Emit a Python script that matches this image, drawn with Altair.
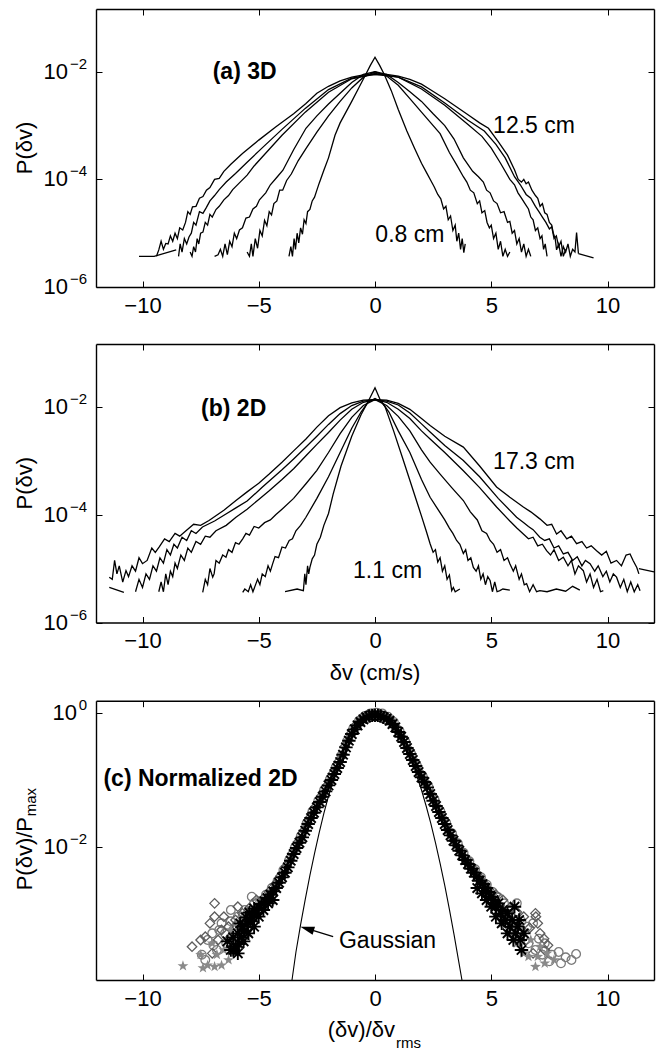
import altair as alt
import pandas as pd

FONT = "Liberation Sans"

# ------------------------------------------------------------------
# Data: (delta v, log10 P) pairs
# ------------------------------------------------------------------
X_TICKS = [-10, -5, 0, 5, 10]

# ---- panel (a) 3D ----
A1 = [(-3.70,-5.43),(-3.62,-5.25),(-3.55,-5.43),(-3.48,-5.10),(-3.42,-5.30),(-3.35,-5.00),(-3.28,-5.18),(-3.20,-4.90),(-3.12,-5.02),(-3.05,-4.75),(-2.97,-4.82),(-2.90,-4.60),(-2.80,-4.56),(-2.70,-4.40),(-2.60,-4.33),(-2.50,-4.20),(-2.40,-4.07),(-2.30,-3.95),(-2.20,-3.83),(-2.00,-3.60),(-1.72,-3.18),(-1.50,-2.95),(-1.00,-2.55),(-0.70,-2.30),(-0.40,-2.05),(-0.20,-1.88),(0.00,-1.73),(0.20,-1.88),(0.40,-2.05),(0.70,-2.35),(1.00,-2.70),(1.37,-3.10),(1.70,-3.42),(2.00,-3.70),(2.20,-3.86),(2.40,-4.02),(2.55,-4.14),(2.70,-4.28),(2.83,-4.36),(2.95,-4.55),(3.05,-4.50),(3.15,-4.75),(3.25,-4.68),(3.35,-4.95),(3.45,-4.85),(3.52,-5.15),(3.60,-5.00),(3.68,-5.30),(3.75,-5.10),(3.82,-5.36),(3.88,-5.20)]
A2 = [(-5.50,-5.35),(-5.40,-5.43),(-5.32,-5.20),(-5.25,-5.43),(-5.15,-5.10),(-5.05,-5.28),(-4.95,-4.95),(-4.85,-5.05),(-4.75,-4.76),(-4.65,-4.86),(-4.55,-4.60),(-4.45,-4.66),(-4.35,-4.45),(-4.22,-4.40),(-4.10,-4.20),(-3.97,-4.20),(-3.80,-4.02),(-3.60,-3.90),(-3.30,-3.65),(-2.97,-3.43),(-2.50,-3.12),(-2.00,-2.82),(-1.50,-2.55),(-1.00,-2.30),(-0.50,-2.10),(0.00,-2.00),(0.50,-2.08),(1.00,-2.25),(1.50,-2.50),(2.00,-2.75),(2.40,-2.95),(2.80,-3.15),(3.20,-3.50),(3.50,-3.72),(3.80,-3.95),(3.95,-4.05),(4.10,-4.20),(4.25,-4.25),(4.40,-4.45),(4.50,-4.40),(4.60,-4.62),(4.72,-4.58),(4.82,-4.80),(4.92,-4.90),(5.00,-4.85),(5.10,-5.10),(5.20,-5.00),(5.30,-5.30),(5.40,-5.15),(5.50,-5.43),(5.60,-5.30),(5.70,-5.43),(5.80,-5.35)]
A3 = [(-6.90,-5.43),(-6.75,-5.40),(-6.65,-5.30),(-6.55,-5.43),(-6.45,-5.20),(-6.35,-5.40),(-6.25,-5.15),(-6.15,-5.25),(-6.05,-5.00),(-5.95,-5.10),(-5.83,-4.94),(-5.70,-4.90),(-5.55,-4.72),(-5.40,-4.70),(-5.25,-4.55),(-5.10,-4.50),(-4.97,-4.38),(-4.70,-4.25),(-4.50,-4.10),(-4.20,-3.95),(-3.96,-3.83),(-3.50,-3.45),(-2.97,-3.05),(-2.50,-2.82),(-2.00,-2.60),(-1.50,-2.40),(-1.00,-2.20),(-0.50,-2.05),(0.00,-2.00),(0.50,-2.05),(1.00,-2.20),(1.50,-2.37),(2.00,-2.55),(2.50,-2.78),(3.00,-3.00),(3.40,-3.25),(3.80,-3.60),(4.20,-3.85),(4.45,-3.95),(4.66,-4.05),(4.80,-4.20),(4.95,-4.25),(5.10,-4.40),(5.25,-4.45),(5.40,-4.62),(5.55,-4.60),(5.70,-4.80),(5.80,-4.78),(5.90,-5.00),(6.00,-4.95),(6.10,-5.20),(6.20,-5.10),(6.30,-5.35),(6.40,-5.20),(6.50,-5.43),(6.60,-5.30),(6.70,-5.43)]
A4 = [(-7.95,-5.35),(-7.87,-5.43),(-7.80,-5.25),(-7.72,-5.35),(-7.65,-5.10),(-7.58,-5.20),(-7.50,-5.00),(-7.40,-4.98),(-7.30,-4.80),(-7.20,-4.85),(-7.10,-4.65),(-7.00,-4.70),(-6.84,-4.56),(-6.70,-4.50),(-6.50,-4.38),(-6.30,-4.30),(-6.12,-4.19),(-5.80,-4.05),(-5.50,-3.92),(-5.20,-3.75),(-4.84,-3.58),(-4.00,-3.18),(-3.00,-2.75),(-2.00,-2.38),(-1.00,-2.13),(0.00,-2.03),(1.00,-2.10),(2.00,-2.32),(3.00,-2.62),(4.00,-2.98),(4.60,-3.20),(5.00,-3.42),(5.40,-3.70),(5.80,-4.00),(6.00,-4.10),(6.15,-4.25),(6.30,-4.35),(6.45,-4.45),(6.60,-4.55),(6.70,-4.70),(6.80,-4.75),(6.90,-4.95),(7.00,-4.90),(7.10,-5.10),(7.18,-5.05),(7.25,-5.30),(7.32,-5.20),(7.40,-5.43)]
A5 = [(-8.45,-5.43),(-8.38,-5.20),(-8.30,-5.35),(-8.20,-5.10),(-8.10,-5.20),(-8.00,-5.07),(-7.90,-5.00),(-7.80,-4.80),(-7.70,-4.85),(-7.55,-4.60),(-7.40,-4.63),(-7.25,-4.52),(-7.10,-4.40),(-6.90,-4.30),(-6.70,-4.19),(-6.40,-4.05),(-6.00,-3.89),(-5.50,-3.68),(-4.84,-3.41),(-4.00,-3.07),(-3.00,-2.68),(-2.00,-2.33),(-1.00,-2.12),(0.00,-2.05),(1.00,-2.10),(2.00,-2.28),(3.00,-2.58),(4.00,-2.90),(4.70,-3.10),(5.20,-3.35),(5.60,-3.60),(6.00,-3.95),(6.25,-4.10),(6.50,-4.28),(6.70,-4.35),(6.90,-4.50),(7.05,-4.60),(7.20,-4.70),(7.35,-4.80),(7.50,-4.92),(7.60,-4.88),(7.70,-5.10),(7.80,-5.05),(7.90,-5.25),(8.00,-5.15),(8.10,-5.43),(8.20,-5.30)]
A6 = [(-9.40,-5.43),(-9.30,-5.31),(-9.20,-5.15),(-9.10,-5.30),(-9.00,-5.19),(-8.90,-5.20),(-8.80,-5.05),(-8.70,-5.15),(-8.60,-5.00),(-8.50,-5.10),(-8.40,-4.90),(-8.27,-4.94),(-8.15,-4.80),(-8.05,-4.60),(-7.95,-4.65),(-7.85,-4.51),(-7.70,-4.50),(-7.55,-4.35),(-7.40,-4.32),(-7.25,-4.20),(-7.10,-4.15),(-6.90,-4.00),(-6.70,-3.98),(-6.50,-3.85),(-6.20,-3.72),(-5.70,-3.52),(-5.00,-3.27),(-4.26,-3.02),(-3.50,-2.78),(-2.97,-2.59),(-2.50,-2.40),(-2.00,-2.27),(-1.50,-2.17),(-1.00,-2.10),(-0.50,-2.06),(0.00,-2.05),(0.50,-2.05),(1.00,-2.08),(1.50,-2.14),(2.00,-2.23),(2.37,-2.33),(3.00,-2.50),(3.50,-2.65),(4.00,-2.80),(4.50,-2.95),(4.88,-3.05),(5.30,-3.30),(5.70,-3.55),(6.00,-3.82),(6.16,-4.00),(6.30,-4.05),(6.40,-4.00),(6.50,-4.08),(6.60,-4.05),(6.75,-4.20),(6.90,-4.30),(7.00,-4.35),(7.10,-4.50),(7.20,-4.45),(7.30,-4.62),(7.40,-4.65),(7.50,-4.80),(7.60,-4.85),(7.67,-5.00),(7.75,-5.10),(7.81,-5.31),(7.90,-5.20),(8.00,-5.43),(8.10,-5.25),(8.20,-5.35),(8.30,-5.20),(8.40,-5.43),(8.50,-5.30),(8.60,-5.35),(8.67,-4.99),(8.75,-5.38)]
A6_FIT_L = [(-10.15,-5.43),(-9.50,-5.43),(-8.55,-5.31)]
A6_FIT_R = [(8.75,-5.38),(9.40,-5.46)]

# ---- panel (b) 2D ----
B1 = [(-3.87,-5.43),(-3.35,-5.38),(-3.08,-5.41),(-3.02,-5.10),(-2.97,-5.30),(-2.90,-4.95),(-2.85,-5.10),(-2.80,-4.98),(-2.70,-4.82),(-2.60,-4.75),(-2.50,-4.55),(-2.35,-4.42),(-2.20,-4.20),(-2.00,-3.98),(-1.80,-3.62),(-1.46,-3.10),(-1.00,-2.55),(-0.60,-2.15),(-0.29,-1.90),(0.00,-1.65),(0.25,-1.90),(0.43,-2.00),(0.80,-2.45),(1.20,-2.97),(1.60,-3.50),(2.00,-4.03),(2.20,-4.30),(2.37,-4.54),(2.50,-4.70),(2.60,-4.65),(2.70,-4.88),(2.80,-4.80),(2.90,-5.05),(3.00,-4.95),(3.10,-5.20),(3.20,-5.12),(3.30,-5.41),(3.37,-5.35),(3.45,-5.43),(3.65,-5.38)]
B2 = [(-5.69,-5.44),(-5.60,-5.38),(-5.45,-5.43),(-5.35,-5.30),(-5.25,-5.43),(-5.12,-5.28),(-5.05,-5.20),(-4.95,-5.30),(-4.85,-5.10),(-4.72,-5.15),(-4.60,-4.95),(-4.50,-5.05),(-4.40,-4.91),(-4.30,-4.78),(-4.15,-4.80),(-4.00,-4.60),(-3.85,-4.62),(-3.69,-4.48),(-3.55,-4.45),(-3.40,-4.30),(-3.20,-4.20),(-2.97,-4.05),(-2.50,-3.70),(-2.00,-3.30),(-1.50,-2.85),(-1.00,-2.40),(-0.60,-2.10),(-0.30,-1.92),(0.00,-1.85),(0.30,-1.92),(0.60,-2.10),(1.00,-2.45),(1.50,-2.85),(2.00,-3.35),(2.37,-3.68),(2.70,-3.90),(3.00,-4.10),(3.20,-4.25),(3.35,-4.35),(3.51,-4.48),(3.65,-4.55),(3.80,-4.72),(3.90,-4.65),(4.00,-4.85),(4.12,-4.80),(4.23,-4.98),(4.35,-5.05),(4.45,-4.95),(4.55,-5.20),(4.65,-5.10),(4.75,-5.30),(4.85,-5.15),(4.95,-5.22),(5.05,-5.43),(5.15,-5.25),(5.25,-5.43),(5.37,-5.41),(5.50,-5.38),(5.80,-5.40)]
B3 = [(-7.41,-5.44),(-7.30,-5.20),(-7.20,-5.30),(-7.10,-5.00),(-6.98,-5.16),(-6.92,-5.10),(-6.84,-4.85),(-6.70,-4.90),(-6.55,-4.75),(-6.41,-4.79),(-6.30,-4.65),(-6.15,-4.70),(-6.00,-4.52),(-5.85,-4.55),(-5.69,-4.45),(-5.55,-4.35),(-5.40,-4.38),(-5.20,-4.22),(-5.00,-4.25),(-4.75,-4.15),(-4.50,-4.10),(-4.26,-4.00),(-4.00,-3.90),(-3.50,-3.70),(-2.97,-3.43),(-2.50,-3.18),(-2.00,-2.85),(-1.50,-2.50),(-1.00,-2.20),(-0.50,-1.98),(0.00,-1.87),(0.50,-1.98),(1.00,-2.18),(1.50,-2.45),(2.00,-2.80),(2.37,-3.03),(2.80,-3.25),(3.30,-3.50),(3.80,-3.74),(4.10,-3.95),(4.40,-4.10),(4.60,-4.30),(4.80,-4.35),(4.95,-4.48),(5.10,-4.55),(5.25,-4.70),(5.40,-4.65),(5.55,-4.85),(5.70,-4.80),(5.80,-4.91),(5.95,-5.05),(6.05,-4.95),(6.20,-5.20),(6.30,-5.10),(6.42,-5.30),(6.52,-5.28),(6.65,-5.43),(6.80,-5.30),(6.95,-5.43),(7.09,-5.41),(7.40,-5.43),(7.80,-5.38),(8.20,-5.42),(8.50,-5.33),(8.81,-5.40)]
B4 = [(-9.30,-5.43),(-9.20,-5.25),(-9.10,-5.43),(-9.00,-5.10),(-8.90,-5.30),(-8.80,-5.05),(-8.70,-5.15),(-8.60,-4.90),(-8.50,-5.00),(-8.35,-4.75),(-8.20,-4.85),(-8.05,-4.62),(-7.90,-4.70),(-7.70,-4.50),(-7.50,-4.55),(-7.30,-4.40),(-7.10,-4.42),(-6.84,-4.30),(-6.40,-4.20),(-5.98,-4.05),(-5.50,-3.90),(-5.00,-3.72),(-4.55,-3.56),(-4.00,-3.35),(-3.50,-3.15),(-2.97,-2.91),(-2.50,-2.70),(-2.00,-2.48),(-1.50,-2.25),(-1.00,-2.05),(-0.50,-1.92),(0.00,-1.87),(0.50,-1.92),(1.00,-2.05),(1.50,-2.22),(2.00,-2.45),(2.37,-2.60),(3.00,-2.85),(3.80,-3.19),(4.50,-3.50),(5.23,-3.86),(5.80,-4.12),(6.10,-4.25),(6.38,-4.36),(6.60,-4.45),(6.80,-4.42),(7.00,-4.58),(7.20,-4.55),(7.38,-4.67),(7.55,-4.75),(7.70,-4.65),(7.90,-4.85),(8.10,-4.79),(8.30,-4.95),(8.45,-4.85),(8.60,-5.10),(8.75,-4.95),(8.96,-5.04),(9.10,-5.25),(9.25,-5.10),(9.40,-5.35),(9.55,-5.20),(9.70,-5.43),(9.82,-5.41)]
B5 = [(-10.30,-5.43),(-10.15,-5.20),(-10.00,-5.35),(-9.85,-5.10),(-9.70,-5.20),(-9.55,-4.95),(-9.40,-5.05),(-9.25,-4.80),(-9.10,-4.90),(-8.95,-4.65),(-8.80,-4.75),(-8.65,-4.55),(-8.50,-4.62),(-8.30,-4.42),(-8.10,-4.48),(-7.90,-4.30),(-7.70,-4.35),(-7.42,-4.23),(-6.90,-4.12),(-6.41,-3.99),(-6.00,-3.88),(-5.50,-3.75),(-4.84,-3.49),(-4.00,-3.17),(-3.50,-2.97),(-2.97,-2.75),(-2.50,-2.55),(-2.00,-2.33),(-1.50,-2.13),(-1.00,-1.98),(-0.50,-1.90),(0.00,-1.87),(0.50,-1.90),(1.00,-1.97),(1.50,-2.12),(2.00,-2.32),(2.37,-2.47),(3.00,-2.72),(3.80,-3.00),(4.50,-3.30),(5.30,-3.70),(6.09,-4.05),(6.40,-4.15),(6.60,-4.22),(6.80,-4.28),(7.09,-4.42),(7.30,-4.48),(7.50,-4.45),(7.70,-4.62),(7.90,-4.58),(8.10,-4.73),(8.30,-4.70),(8.50,-4.85),(8.70,-4.78),(8.90,-4.95),(9.05,-4.85),(9.25,-4.91),(9.45,-5.05),(9.60,-4.95),(9.80,-5.15),(9.95,-5.05),(10.10,-5.25),(10.25,-5.10),(10.39,-5.16),(10.55,-5.35),(10.70,-5.20),(10.85,-5.43),(11.00,-5.25),(11.15,-5.43),(11.30,-5.30),(11.40,-5.41)]
B6 = [(-11.43,-5.16),(-11.30,-5.20),(-11.20,-4.85),(-11.10,-5.10),(-11.00,-4.95),(-10.85,-5.25),(-10.71,-5.04),(-10.60,-5.15),(-10.45,-4.95),(-10.30,-5.05),(-10.15,-4.80),(-10.00,-4.91),(-9.80,-4.85),(-9.60,-4.62),(-9.45,-4.70),(-9.28,-4.60),(-9.05,-4.45),(-8.85,-4.50),(-8.60,-4.35),(-8.40,-4.40),(-8.13,-4.30),(-7.80,-4.18),(-7.50,-4.20),(-7.14,-4.11),(-6.50,-3.92),(-5.98,-3.74),(-5.50,-3.58),(-5.00,-3.42),(-4.55,-3.25),(-4.00,-3.03),(-3.50,-2.82),(-2.97,-2.60),(-2.50,-2.38),(-2.00,-2.17),(-1.50,-2.02),(-1.00,-1.93),(-0.50,-1.88),(0.00,-1.87),(0.50,-1.88),(1.00,-1.94),(1.50,-2.05),(2.00,-2.22),(2.37,-2.35),(3.00,-2.55),(3.80,-2.75),(4.50,-3.10),(5.23,-3.49),(5.80,-3.68),(6.38,-3.86),(6.70,-3.95),(7.09,-4.08),(7.40,-4.20),(7.60,-4.18),(7.81,-4.36),(8.00,-4.30),(8.25,-4.45),(8.45,-4.40),(8.67,-4.54),(8.90,-4.50),(9.10,-4.62),(9.30,-4.58),(9.53,-4.67),(9.75,-4.75),(9.95,-4.68),(10.15,-4.90),(10.39,-4.85),(10.60,-4.95),(10.80,-4.75),(10.97,-4.73),(11.10,-4.85),(11.26,-4.98),(11.35,-5.10)]
B6_FIT_L = [(-11.43,-5.35),(-10.80,-5.44)]
B6_FIT_R = [(11.35,-5.00),(12.00,-5.06)]

# ---- panel (c) normalized 2D: log10(P/Pmax) ----
GAUSS = [(-3.57,-4.00),(-3.40,-3.58),(-3.20,-3.17),(-3.00,-2.79),(-2.80,-2.43),(-2.60,-2.10),(-2.40,-1.79),(-2.20,-1.50),(-2.00,-1.24),(-1.60,-0.79),(-1.20,-0.45),(-0.80,-0.20),(-0.40,-0.05),(0.00,0.00),(0.40,-0.05),(0.80,-0.18),(1.20,-0.41),(1.60,-0.73),(2.00,-1.15),(2.20,-1.39),(2.40,-1.65),(2.60,-1.94),(2.80,-2.25),(3.00,-2.58),(3.20,-2.94),(3.40,-3.32),(3.60,-3.72),(3.74,-4.00)]
C_AST = [(-6.35,-3.42),(-6.20,-3.55),(-6.10,-3.36),(-6.00,-3.50),(-5.90,-3.30),(-5.85,-3.46),(-5.80,-3.15),(-5.75,-3.36),(-5.70,-3.20),(-5.60,-3.26),(-5.55,-3.06),(-5.50,-3.16),(-5.40,-2.99),(-5.35,-3.12),(-5.25,-3.06),(-5.20,-2.93),(-5.10,-3.00),
         (-6.10,-3.55),(-5.90,-3.60),(-5.65,-3.42),(-5.45,-3.30),(-5.20,-3.20),(-5.00,-3.05),(-4.80,-2.95),(-4.60,-2.85),(-4.40,-2.80),
         (-5.000,-2.92),(-4.875,-2.86),(-4.750,-2.82),(-4.625,-2.77),(-4.500,-2.72),(-4.375,-2.67),(-4.250,-2.62),(-4.125,-2.54),(-4.000,-2.46),(-3.875,-2.39),(-3.750,-2.31),(-3.625,-2.21),(-3.500,-2.11),(-3.375,-2.02),(-3.250,-1.94),(-3.125,-1.86),(-3.000,-1.76),(-2.875,-1.66),(-2.750,-1.57),(-2.625,-1.49),(-2.500,-1.41),(-2.375,-1.33),(-2.250,-1.25),(-2.125,-1.17),(-2.000,-1.08),(-1.875,-1.00),(-1.750,-0.91),(-1.625,-0.82),(-1.500,-0.73),(-1.375,-0.62),(-1.250,-0.51),(-1.125,-0.41),(-1.000,-0.31),(-0.875,-0.24),(-0.750,-0.18),(-0.625,-0.13),(-0.500,-0.09),(-0.375,-0.06),(-0.250,-0.04),(-0.125,-0.03),(0.000,-0.03),
         (0.125,-0.03),(0.250,-0.04),(0.375,-0.06),(0.500,-0.08),(0.625,-0.11),(0.750,-0.16),(0.875,-0.21),(1.000,-0.28),(1.125,-0.35),(1.250,-0.43),(1.375,-0.52),(1.500,-0.61),(1.625,-0.70),(1.750,-0.79),(1.875,-0.88),(2.000,-0.96),(2.125,-1.03),(2.250,-1.11),(2.375,-1.21),(2.500,-1.31),(2.625,-1.39),(2.750,-1.48),(2.875,-1.57),(3.000,-1.66),(3.125,-1.75),(3.250,-1.83),(3.375,-1.91),(3.500,-1.98),(3.625,-2.06),(3.750,-2.13),(3.875,-2.20),(4.000,-2.26),(4.125,-2.33),(4.250,-2.39),(4.375,-2.45),(4.500,-2.51),(4.625,-2.56),(4.750,-2.62),(4.875,-2.68),(5.000,-2.75),
         (4.40,-2.62),(4.60,-2.70),(4.80,-2.80),(5.00,-2.90),(5.20,-3.05),(5.45,-3.15),(5.70,-3.30),(5.95,-3.40),(6.20,-3.10),(6.30,-3.55),
         (5.10,-2.80),(5.20,-2.90),(5.30,-2.85),(5.40,-3.00),(5.50,-2.95),(5.60,-3.10),(5.70,-3.00),(5.80,-3.20),(5.90,-3.10),(6.00,-2.90),(6.05,-3.30),(6.15,-3.20),(6.25,-3.40),(6.40,-3.30)]
C_CIRC = [(-7.45,-3.62),(-7.20,-3.40),(-6.95,-3.48),(-6.70,-3.25),(-6.45,-3.30),(-6.20,-3.12),(-5.95,-3.18),(-5.70,-3.05),(-5.45,-2.98),(-5.20,-2.85),
          (-5.30,-2.75),(-5.60,-2.95),(-5.90,-3.05),(-6.10,-3.25),(-6.40,-3.45),(-6.60,-3.15),(-6.80,-3.55),(-7.00,-3.30),(-7.30,-3.70),(-6.20,-2.95),
          (-4.94,-2.82),(-4.69,-2.72),(-4.44,-2.62),(-4.19,-2.51),(-3.94,-2.35),(-3.69,-2.20),(-3.44,-2.01),(-3.19,-1.84),(-2.94,-1.65),(-2.69,-1.47),(-2.44,-1.31),(-2.19,-1.15),(-1.94,-0.99),(-1.69,-0.81),(-1.44,-0.63),(-1.19,-0.41),(-0.94,-0.23),(-0.69,-0.11),(-0.44,-0.04),(-0.19,0.00),(0.06,0.01),(0.31,0.00),(0.56,-0.05),(0.81,-0.13),(1.06,-0.27),(1.31,-0.43),(1.56,-0.61),(1.81,-0.79),(2.06,-0.95),(2.31,-1.11),(2.56,-1.29),(2.81,-1.47),(3.06,-1.64),(3.31,-1.80),(3.56,-1.95),(3.81,-2.09),(4.06,-2.22),(4.31,-2.34),(4.56,-2.46),(4.81,-2.57),(5.06,-2.68),
          (5.30,-2.76),(5.55,-2.85),(5.80,-2.95),(6.05,-3.00),(6.30,-3.12),(6.55,-3.20),(6.80,-3.15),(7.05,-3.38),(7.30,-3.45),(7.60,-3.62),(7.90,-3.58),(8.20,-3.66),(8.45,-3.70),(8.65,-3.61),
          (5.40,-2.90),(5.70,-3.10),(6.00,-3.20),(6.30,-3.30),(6.60,-3.45),(6.90,-3.55),(7.20,-3.62),(7.50,-3.72),(8.00,-3.75),(6.10,-2.85)]
C_DIAM = [(-7.87,-3.50),(-7.30,-3.35),(-7.10,-3.15),(-6.90,-3.05),(-6.60,-3.25),(-6.30,-3.20),(-6.00,-3.10),(-5.70,-3.00),(-5.40,-2.92),(-5.10,-2.80),
          (-5.60,-3.20),(-5.90,-2.90),(-6.20,-3.35),(-6.50,-3.05),(-6.75,-3.40),(-7.00,-3.60),(-7.50,-3.40),(-6.90,-2.85),
          (-4.81,-2.78),(-4.56,-2.68),(-4.31,-2.57),(-4.06,-2.44),(-3.81,-2.29),(-3.56,-2.10),(-3.31,-1.93),(-3.06,-1.76),(-2.81,-1.57),(-2.56,-1.40),(-2.31,-1.24),(-2.06,-1.08),(-1.81,-0.90),(-1.56,-0.72),(-1.31,-0.50),(-1.06,-0.31),(-0.81,-0.17),(-0.56,-0.07),(-0.31,-0.02),(-0.06,-0.01),(0.19,-0.01),(0.44,-0.04),(0.69,-0.11),(0.94,-0.22),(1.19,-0.37),(1.44,-0.54),(1.69,-0.72),(1.94,-0.89),(2.19,-1.04),(2.44,-1.22),(2.69,-1.41),(2.94,-1.58),(3.19,-1.76),(3.44,-1.92),(3.69,-2.06),(3.94,-2.19),(4.19,-2.32),(4.44,-2.44),(4.69,-2.55),(4.94,-2.66),
          (5.20,-2.72),(5.50,-2.80),(5.80,-2.92),(6.10,-2.98),(6.40,-3.05),(6.65,-3.22),(6.92,-3.05),(7.10,-3.30),(7.27,-3.38),(7.44,-3.48),
          (5.60,-3.00),(5.90,-3.15),(6.20,-3.30),(6.50,-3.40),(6.80,-3.60),(7.00,-3.15),(7.30,-3.55),(6.90,-3.00)]
C_STAR = [(-8.26,-3.79),(-7.50,-3.62),(-7.20,-3.78),(-6.90,-3.80),(-6.60,-3.78),(-6.30,-3.70),(-6.00,-3.55),(-5.75,-3.25),(-5.45,-3.10),(-5.15,-2.98),
          (-5.50,-3.35),(-5.90,-3.45),(-6.20,-3.25),(-6.50,-3.55),(-7.00,-3.45),(-7.40,-3.82),(-6.80,-3.62),
          (-4.88,-2.88),(-4.63,-2.78),(-4.38,-2.66),(-4.13,-2.55),(-3.88,-2.39),(-3.63,-2.21),(-3.38,-2.03),(-3.13,-1.86),(-2.88,-1.66),(-2.63,-1.49),(-2.38,-1.33),(-2.13,-1.17),(-1.88,-1.00),(-1.63,-0.82),(-1.38,-0.62),(-1.13,-0.41),(-0.88,-0.24),(-0.63,-0.13),(-0.38,-0.06),(-0.13,-0.03),(0.13,-0.03),(0.38,-0.06),(0.63,-0.11),(0.88,-0.21),(1.13,-0.35),(1.38,-0.52),(1.63,-0.70),(1.88,-0.88),(2.13,-1.03),(2.38,-1.21),(2.63,-1.39),(2.88,-1.57),(3.13,-1.75),(3.38,-1.91),(3.63,-2.06),(3.88,-2.20),(4.13,-2.33),(4.38,-2.45),(4.63,-2.56),(4.88,-2.68),
          (5.15,-2.78),(5.45,-2.92),(5.75,-3.08),(6.05,-3.20),(6.40,-3.60),(6.70,-3.40),(7.00,-3.65),(7.30,-3.75),(7.70,-3.70),
          (5.50,-3.15),(5.80,-3.30),(6.10,-3.45),(6.60,-3.65),(6.90,-3.80),(7.40,-3.60),(7.10,-3.50)]

# annotations: (text, v, log10 P)
ANN_A_BOLD = [("(a) 3D", -6.98, -2.00)]
ANN_A = [("12.5 cm", 6.84, -3.00), ("0.8 cm", 1.50, -5.04)]
ANN_B_BOLD = [("(b) 2D", -7.48, -2.04)]
ANN_B = [("17.3 cm", 6.84, -3.03), ("1.1 cm", 0.54, -5.04)]
ANN_C_BOLD = [("(c) Normalized 2D", -11.68, -0.985)]
ANN_C = [("Gaussian", 0.54, -3.42)]
ARROW = [(-1.80, -3.35, -2.92, -3.23)]   # tail (v, logP) -> head centre (v, logP)

Y_TICKS_AB = [(-6, "\u22126"), (-4, "\u22124"), (-2, "\u22122")]
Y_TICKS_C0 = [(0, "0")]
Y_TICKS_C2 = [(-2, "\u22122")]

# ------------------------------------------------------------------
# Layout
# ------------------------------------------------------------------
W, H = 558, 971
A_RNG, B_RNG, C_RNG = [278, 0], [613.5, 335], [971, 691.7]
XS = alt.Scale(domain=[-12, 12], nice=False, zero=False)
YA = alt.Scale(type="log", domain=[1e-6, 10 ** -0.833], range=A_RNG, nice=False)
YB = alt.Scale(type="log", domain=[1e-6, 10 ** -0.84], range=B_RNG, nice=False)
YC = alt.Scale(type="log", domain=[1e-4, 10 ** 0.19], range=C_RNG, nice=False)
TICK = {"expr": "-6"}
LW = 1.3


def x_axis(orient, offset, labels):
    return alt.Axis(orient=orient, offset=offset, values=X_TICKS, tickSize=TICK,
                    tickColor="black", tickWidth=1, domainColor="black", domainWidth=1.4,
                    labels=labels, labelFont=FONT, labelFontSize=22, labelColor="black",
                    labelPadding=14, labelFlush=False, labelOverlap=False, grid=False, title=None)


def y_axis(orient, values):
    return alt.Axis(orient=orient, values=values, tickSize=TICK, tickColor="black",
                    tickWidth=1, domainColor="black", domainWidth=1.4, labels=False,
                    grid=False, title=None)


def curves_df(curves):
    rows = []
    for name, pts in curves.items():
        for i, (v, lp) in enumerate(pts):
            rows.append({"curve": name, "i": i, "v": v, "P": 10 ** lp})
    return pd.DataFrame(rows)


def pts_df(pts):
    return pd.DataFrame({"v": [p[0] for p in pts], "P": [10 ** p[1] for p in pts]})


def ann_df(items):
    return pd.DataFrame({"t": [a[0] for a in items], "v": [a[1] for a in items],
                         "P": [10 ** a[2] for a in items]})


def tick_labels(ticks, ys, base_x):
    df = pd.DataFrame({"P": [10.0 ** t[0] for t in ticks], "e": [t[1] for t in ticks]})
    base = alt.Chart(df).mark_text(font=FONT, fontSize=22, align="right", baseline="middle",
                                   color="black").encode(
        x=alt.value(base_x), y=alt.Y("P:Q", scale=ys, axis=None), text=alt.value("10"))
    expo = alt.Chart(df).mark_text(font=FONT, fontSize=15, align="right", baseline="middle",
                                   dy=-8, color="black").encode(
        x=alt.value(-9), y=alt.Y("P:Q", scale=ys, axis=None), text="e:N")
    return [base, expo]


def text_at(t, x, y, size=22, angle=0, align="center"):
    return alt.Chart(pd.DataFrame({"t": [t]})).mark_text(
        font=FONT, fontSize=size, angle=angle, align=align, baseline="middle",
        color="black").encode(x=alt.value(x), y=alt.value(y), text="t:N")


def curve_panel(curves, ys, yvals, bottom_off, top_off, bold, normal):
    lines = alt.Chart(curves_df(curves)).mark_line(color="black", strokeWidth=LW).encode(
        x=alt.X("v:Q", scale=XS, axis=x_axis("bottom", bottom_off, True)),
        y=alt.Y("P:Q", scale=ys, axis=y_axis("left", yvals)),
        detail="curve:N", order="i:Q")
    norm = alt.Chart(ann_df(normal)).mark_text(font=FONT, fontSize=23, color="black",
                                               baseline="middle").encode(
        x=alt.X("v:Q", scale=XS, axis=x_axis("top", top_off, False)),
        y=alt.Y("P:Q", scale=ys, axis=y_axis("right", yvals)), text="t:N")
    bld = alt.Chart(ann_df(bold)).mark_text(font=FONT, fontSize=23, fontWeight="bold",
                                            color="black", align="left",
                                            baseline="middle").encode(
        x=alt.X("v:Q", scale=XS, axis=None), y=alt.Y("P:Q", scale=ys, axis=None), text="t:N")
    return [lines, norm, bld]


YV_AB = [1e-6, 1e-4, 1e-2]

# panel (a)
pa_layers = curve_panel({"A1": A1, "A2": A2, "A3": A3, "A4": A4, "A5": A5, "A6": A6,
                         "A6fl": A6_FIT_L, "A6fr": A6_FIT_R},
                        YA, YV_AB, -(H - A_RNG[0]), -A_RNG[1], ANN_A_BOLD, ANN_A)
pa_layers += tick_labels(Y_TICKS_AB, YA, -28)
pa_layers.append(text_at("P(\u03b4v)", -71, (A_RNG[0] + A_RNG[1]) / 2, angle=270))
panel_a = alt.layer(*pa_layers).resolve_axis(x="independent", y="independent")

# panel (b)
pb_layers = curve_panel({"B1": B1, "B2": B2, "B3": B3, "B4": B4, "B5": B5, "B6": B6,
                         "B6fl": B6_FIT_L, "B6fr": B6_FIT_R},
                        YB, YV_AB, -(H - B_RNG[0]), -B_RNG[1], ANN_B_BOLD, ANN_B)
pb_layers += tick_labels(Y_TICKS_AB, YB, -28)
pb_layers.append(text_at("P(\u03b4v)", -71, (B_RNG[0] + B_RNG[1]) / 2, angle=270))
pb_layers.append(text_at("\u03b4v (cm/s)", W / 2, B_RNG[0] + 50))
panel_b = alt.layer(*pb_layers).resolve_axis(x="independent", y="independent")

# panel (c)
YV_C = [1e-2, 1.0]
AST = "M-1,0L1,0M0,-1L0,1M-0.7,-0.7L0.7,0.7M-0.7,0.7L0.7,-0.7"
STAR = ("M0,-1L0.235,-0.324L0.951,-0.309L0.38,0.124L0.588,0.809L0,0.4L-0.588,0.809"
        "L-0.38,0.124L-0.951,-0.309L-0.235,-0.324Z")
HEAD = "M-1,0L1,-0.6L1,0.6Z"

gauss = alt.Chart(curves_df({"g": GAUSS})).mark_line(color="black", strokeWidth=1.1,
                                                     clip=True).encode(
    x=alt.X("v:Q", scale=XS, axis=x_axis("bottom", 0, True)),
    y=alt.Y("P:Q", scale=YC, axis=y_axis("left", YV_C)), order="i:Q")


def scatter(pts, **mk):
    return alt.Chart(pts_df(pts)).mark_point(**mk).encode(
        x=alt.X("v:Q", scale=XS, axis=None), y=alt.Y("P:Q", scale=YC, axis=None))


sc_circ = scatter(C_CIRC, shape="circle", size=75, filled=False, stroke="#7a7a7a",
                  strokeWidth=1.3, opacity=1)
sc_diam = scatter(C_DIAM, shape="diamond", size=90, filled=False, stroke="#5c5c5c",
                  strokeWidth=1.3, opacity=1)
sc_star = scatter(C_STAR, shape=STAR, size=130, filled=True, fill="#8a8a8a",
                  strokeWidth=0, opacity=1)
sc_ast = scatter(C_AST, shape=AST, size=180, filled=False, stroke="black",
                 strokeWidth=1.9, opacity=1)

arrow_df = pd.DataFrame({"v1": [a[0] for a in ARROW], "P1": [10 ** a[1] for a in ARROW],
                         "v2": [a[2] for a in ARROW], "P2": [10 ** a[3] for a in ARROW]})
arrow_line = alt.Chart(arrow_df).mark_rule(color="black", strokeWidth=1.2).encode(
    x=alt.X("v1:Q", scale=XS, axis=None), x2="v2:Q",
    y=alt.Y("P1:Q", scale=YC, axis=None), y2="P2:Q")
arrow_head = alt.Chart(arrow_df).mark_point(shape=HEAD, size=196, filled=True, fill="black",
                                            strokeWidth=0, angle=17, opacity=1).encode(
    x=alt.X("v2:Q", scale=XS, axis=None), y=alt.Y("P2:Q", scale=YC, axis=None))

ann_c = alt.Chart(ann_df(ANN_C)).mark_text(font=FONT, fontSize=23, color="black",
                                           baseline="middle").encode(
    x=alt.X("v:Q", scale=XS, axis=x_axis("top", -C_RNG[1], False)),
    y=alt.Y("P:Q", scale=YC, axis=y_axis("right", YV_C)), text="t:N")
ann_c_bold = alt.Chart(ann_df(ANN_C_BOLD)).mark_text(font=FONT, fontSize=23, fontWeight="bold",
                                                     color="black", align="left",
                                                     baseline="middle").encode(
    x=alt.X("v:Q", scale=XS, axis=None), y=alt.Y("P:Q", scale=YC, axis=None), text="t:N")

pc_layers = [gauss, sc_circ, sc_diam, sc_star, sc_ast, arrow_line, arrow_head, ann_c, ann_c_bold]
pc_layers += tick_labels(Y_TICKS_C0, YC, -19)
pc_layers += tick_labels(Y_TICKS_C2, YC, -28)
yc_mid = (C_RNG[0] + C_RNG[1]) / 2
pc_layers.append(text_at("P(\u03b4v)/P", -71, yc_mid + 50, angle=270, align="left"))
pc_layers.append(text_at("max", -65, yc_mid - 24, size=15, angle=270, align="left"))
pc_layers.append(text_at("(\u03b4v)/\u03b4v", 299, C_RNG[0] + 50, align="right"))
pc_layers.append(text_at("rms", 300, C_RNG[0] + 63, size=15, align="left"))
panel_c = alt.layer(*pc_layers).resolve_axis(x="independent", y="independent")

chart = alt.layer(panel_a, panel_b, panel_c).resolve_scale(
    y="independent").resolve_axis(x="independent", y="independent").properties(
    width=W, height=H,
    padding={"left": 96, "top": 9, "right": 6, "bottom": 73},
    autosize=alt.AutoSizeParams(type="none"),
    background="white",
).configure_view(stroke=None)

chart.save("out.html", embed_options={"renderer": "svg", "actions": False})
